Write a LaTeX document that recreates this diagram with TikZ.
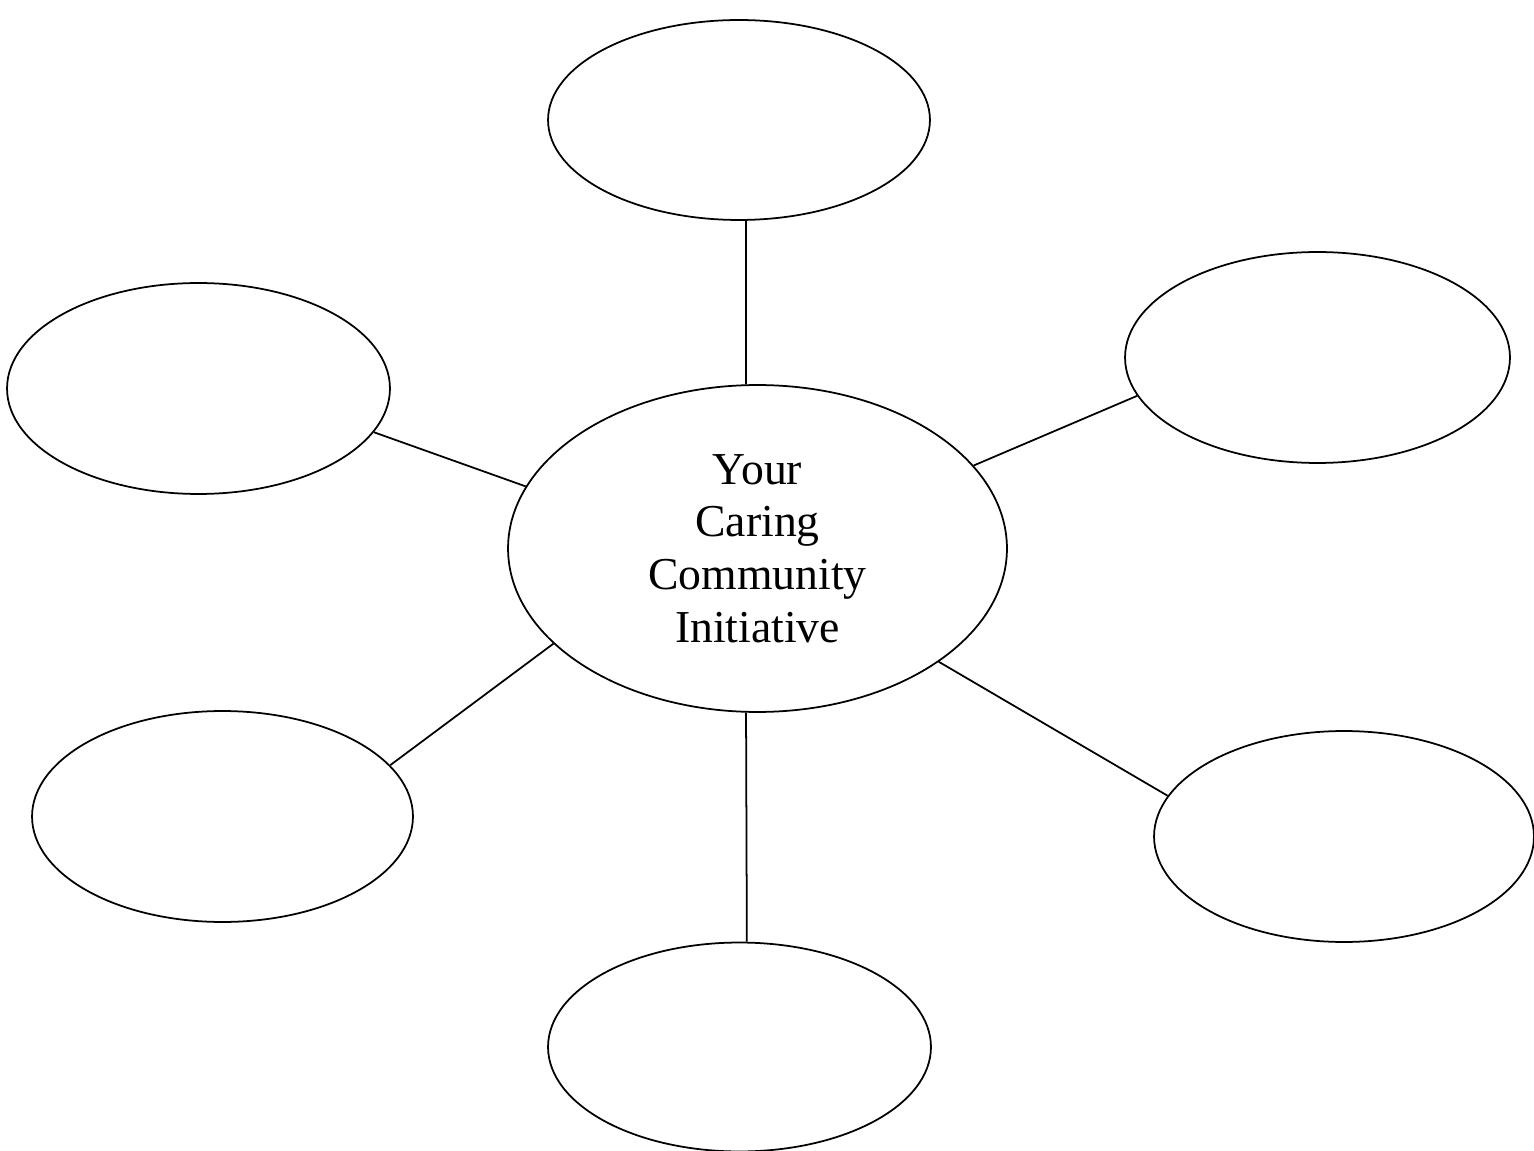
\documentclass[tikz,border=0pt]{standalone}
\usepackage{fontspec}
\setmainfont{Liberation Serif}
\usetikzlibrary{shapes.geometric}
\begin{document}
\begin{tikzpicture}[x=0.02cm,y=-0.02cm,
  bubble/.style={draw,ellipse,line width=1pt,inner sep=0pt},
  link/.style={line width=1pt}]
\useasboundingbox (0,0) rectangle (1534,1151);
\node[bubble,minimum width=9.98cm,minimum height=6.54cm,align=center,
  font=\fontsize{26}{30}\selectfont] (c) at (757.5,548.5) {Your\\Caring\\Community\\Initiative};
\node[bubble,minimum width=7.64cm,minimum height=4.0cm] (t) at (739,120) {};
\node[bubble,minimum width=7.70cm,minimum height=4.22cm] (ur) at (1317.5,357.5) {};
\node[bubble,minimum width=7.66cm,minimum height=4.22cm] (ul) at (198.5,388.5) {};
\node[bubble,minimum width=7.62cm,minimum height=4.22cm] (ll) at (222.5,816.5) {};
\node[bubble,minimum width=7.60cm,minimum height=4.22cm] (lr) at (1344,836.5) {};
\node[bubble,minimum width=7.66cm,minimum height=4.18cm] (b) at (739.5,1047) {};
\draw[link] (c.94) -- (t.274);
\draw[link] (c.21.4) -- (ur.192.3);
\draw[link] (c.165.1) -- (ul.346.5);
\draw[link] (c.205) -- (ll.17.1);
\draw[link] (c.328.4) -- (lr.167.9);
\draw[link] (c.266) -- (b.86.2);
\end{tikzpicture}
\end{document}
